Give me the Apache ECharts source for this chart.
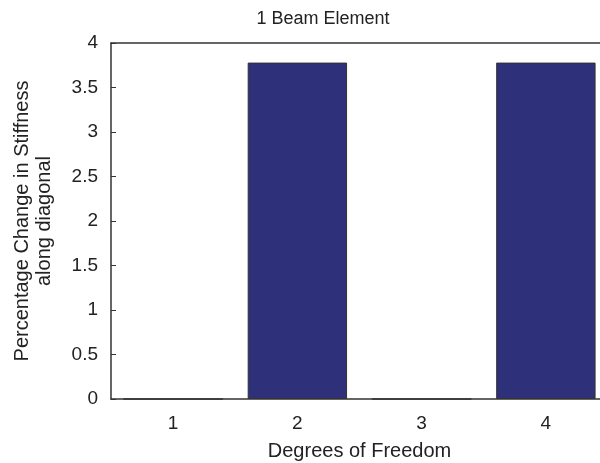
<!DOCTYPE html>
<html>
<head>
<meta charset="utf-8">
<script src="https://cdn.jsdelivr.net/npm/echarts@6/dist/echarts.min.js"></script>
<style>
  html, body { margin: 0; padding: 0; background: #fff; }
  #chart { width: 600px; height: 463px; }
</style>
</head>
<body>
<div id="chart"></div>
<script>
// degrees of freedom and stiffness change (%)
var dofs = ["1", "2", "3", "4"];
var stiffChange = [0, 3.78, 0, 3.78];
var yTicks = [0, 0.5, 1, 1.5, 2, 2.5, 3, 3.5, 4];

var chart = echarts.init(document.getElementById("chart"));
var font = "Liberation Sans, Arial, Helvetica, sans-serif";
var axisCol = "#333";

var option = {
  animation: false,
  title: {
    text: "1 Beam Element",
    left: 318,
    top: 5,
    textAlign: "center",
    textStyle: { fontFamily: font, fontSize: 18, fontWeight: "normal", color: "#222" }
  },
  // axes box runs past the right edge of the picture
  grid: { left: 111, top: 43, width: 497, height: 356, outerBoundsMode: "none", containLabel: false },
  xAxis: [
    {
      type: "category",
      data: dofs,
      boundaryGap: true,
      name: "Degrees of Freedom",
      nameLocation: "middle",
      nameGap: 42,
      nameTextStyle: { fontFamily: font, fontSize: 20, color: "#222" },
      axisLine: { lineStyle: { color: axisCol, width: 1.5 } },
      axisTick: { alignWithLabel: true, inside: true, length: 5, lineStyle: { color: axisCol } },
      axisLabel: { fontFamily: font, fontSize: 19, color: "#222", margin: 15 }
    },
    {
      type: "category",
      data: dofs,
      position: "top",
      boundaryGap: true,
      axisLine: { lineStyle: { color: axisCol, width: 1.5 } },
      axisTick: { alignWithLabel: true, inside: true, length: 5, lineStyle: { color: axisCol } },
      axisLabel: { show: false }
    }
  ],
  yAxis: {
    type: "value",
    min: 0,
    max: 4,
    interval: 0.5,
    name: "Percentage Change in Stiffness\nalong diagonal",
    nameLocation: "middle",
    nameRotate: 90,
    nameGap: 56,
    nameTextStyle: { fontFamily: font, fontSize: 20, color: "#222", lineHeight: 22 },
    axisLine: { show: true, lineStyle: { color: axisCol, width: 1.5 } },
    axisTick: { show: true, inside: true, length: 5, lineStyle: { color: axisCol } },
    splitLine: { show: false },
    axisLabel: {
      fontFamily: font, fontSize: 19, color: "#222", margin: 13,
      formatter: function (v) { return yTicks.indexOf(v) >= 0 ? String(v) : ""; }
    }
  },
  series: [
    {
      type: "bar",
      data: stiffChange,
      barWidth: "80%",
      itemStyle: { color: "#2e3179", borderColor: "#333", borderWidth: 1 }
    }
  ]
};

chart.setOption(option);
</script>
</body>
</html>
